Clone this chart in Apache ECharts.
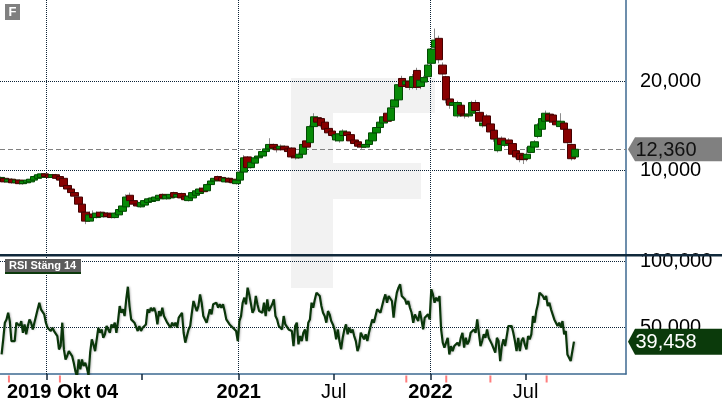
<!DOCTYPE html>
<html>
<head>
<meta charset="utf-8">
<title>F</title>
<script src="https://cdn.jsdelivr.net/npm/echarts/dist/echarts.min.js"></script>
<style>
    html, body { margin: 0; padding: 0; background: #fff; }
    #main { width: 722px; height: 410px; }
</style>
</head>
<body>
<div id="main"></div>
<script>
// weekly candles from 2019-10-07, one per week: [open, close, low, high]
var weekStart = '2019-10-07';
var weeklyOHLC = [
    [8.8, 9.2, 8.7, 9.3], [9.1, 8.7, 8.6, 9.2], [8.7, 9.0, 8.6, 9.1], [9.0, 8.6, 8.5, 9.1], [8.6, 8.9, 8.5, 9.0],
    [8.9, 8.5, 8.4, 9.0], [8.5, 8.8, 8.4, 8.9], [8.6, 8.9, 8.5, 9.0], [8.7, 9.0, 8.6, 9.1], [8.9, 9.3, 8.8, 9.4],
    [9.1, 9.5, 9.0, 9.6], [9.2, 9.6, 9.1, 9.7], [9.6, 9.3, 9.2, 9.7], [9.5, 9.2, 9.1, 9.6], [9.2, 9.5, 9.1, 9.6],
    [9.5, 9.1, 9.0, 9.6], [9.3, 8.9, 8.8, 9.4], [9.1, 8.2, 8.1, 9.2], [8.3, 7.9, 7.8, 8.4], [7.9, 7.5, 7.3, 8.0],
    [7.5, 7.1, 6.9, 7.6], [7.0, 6.2, 6.0, 7.1], [6.2, 5.3, 5.1, 6.4], [5.3, 4.3, 3.96, 5.5], [4.3, 5.0, 4.2, 5.4],
    [5.1, 4.7, 4.5, 5.5], [4.7, 5.2, 4.6, 5.4], [5.3, 4.8, 4.7, 5.4], [4.8, 5.2, 4.7, 5.3], [5.2, 4.8, 4.7, 5.3],
    [5.1, 4.7, 4.6, 5.2], [4.7, 5.2, 4.6, 5.3], [5.0, 5.6, 4.9, 5.7], [5.4, 6.0, 5.3, 6.2], [5.9, 7.0, 5.8, 7.3],
    [7.2, 6.6, 6.4, 7.5], [6.6, 6.2, 6.1, 6.8], [6.2, 6.0, 5.9, 6.4], [5.9, 6.4, 5.8, 6.5], [6.1, 6.6, 6.0, 6.7],
    [6.4, 6.8, 6.3, 6.9], [6.5, 6.9, 6.4, 7.0], [6.6, 7.0, 6.5, 7.1], [6.8, 7.2, 6.7, 7.3], [7.3, 6.9, 6.8, 7.4],
    [6.8, 7.2, 6.7, 7.3], [6.9, 7.3, 6.8, 7.4], [7.5, 7.0, 6.9, 7.6], [7.0, 7.3, 6.9, 7.4], [7.4, 6.9, 6.8, 7.5],
    [7.1, 6.7, 6.6, 7.2], [6.6, 7.1, 6.5, 7.2], [6.9, 7.5, 6.8, 7.6], [7.2, 7.7, 7.1, 7.9], [7.4, 7.9, 7.3, 8.1],
    [8.0, 7.6, 7.5, 8.1], [7.7, 8.4, 7.6, 8.5], [8.4, 8.8, 8.3, 9.0], [8.8, 9.1, 8.7, 9.3], [9.3, 8.9, 8.8, 9.4],
    [9.2, 8.8, 8.7, 9.3], [8.7, 9.1, 8.6, 9.2], [9.1, 8.7, 8.6, 9.2], [9.0, 8.6, 8.5, 9.1], [8.5, 8.9, 8.4, 9.0],
    [8.9, 9.8, 8.8, 10.0], [9.8, 11.4, 9.7, 11.7], [11.5, 10.3, 10.1, 11.6], [10.3, 10.9, 10.2, 11.0], [10.8, 11.4, 10.7, 11.6],
    [11.4, 11.6, 11.2, 11.8], [11.6, 12.1, 11.5, 12.3], [12.1, 12.4, 11.9, 12.6], [12.4, 12.9, 12.3, 13.6], [12.9, 12.5, 12.3, 13.0],
    [12.6, 12.3, 12.0, 12.8], [12.4, 12.7, 12.2, 12.9], [12.7, 12.3, 12.1, 12.8], [12.4, 12.1, 11.9, 12.5], [12.5, 11.5, 11.3, 12.6],
    [11.6, 11.4, 11.2, 11.8], [11.4, 11.8, 11.3, 12.0], [11.8, 12.9, 11.7, 13.1], [13.3, 12.6, 12.5, 13.5], [13.1, 14.9, 13.0, 15.1],
    [14.9, 16.0, 14.8, 16.4], [15.9, 15.4, 15.1, 16.1], [15.8, 15.0, 14.8, 15.9], [15.4, 14.6, 14.4, 15.5], [14.7, 14.2, 14.0, 14.9],
    [14.4, 13.9, 13.7, 14.6], [13.4, 14.0, 13.2, 14.2], [13.3, 14.1, 13.1, 14.3], [13.9, 14.4, 13.7, 14.6], [14.3, 13.9, 13.7, 14.5],
    [14.0, 13.3, 13.1, 14.1], [13.4, 13.0, 12.8, 13.6], [13.2, 12.7, 12.5, 13.3], [12.9, 12.6, 12.4, 13.0], [12.6, 12.9, 12.5, 13.1],
    [12.9, 13.4, 12.8, 13.6], [13.3, 14.2, 13.2, 14.4], [14.2, 14.8, 14.0, 15.0], [14.8, 15.4, 14.6, 15.6], [15.3, 16.0, 15.2, 16.3],
    [16.4, 15.5, 15.3, 16.6], [15.6, 17.0, 15.5, 17.2], [17.1, 17.9, 16.9, 18.1], [17.9, 19.6, 17.8, 19.9], [20.3, 19.4, 19.1, 20.6],
    [19.6, 20.0, 19.3, 20.3], [20.0, 19.3, 19.0, 20.2], [19.3, 20.5, 19.1, 20.8], [21.2, 19.3, 19.0, 21.5], [19.4, 20.1, 19.1, 20.3],
    [19.9, 20.4, 19.7, 20.6], [20.5, 21.8, 20.3, 22.0], [22.0, 23.6, 21.8, 24.2], [23.8, 24.6, 23.4, 25.9], [24.8, 22.4, 22.0, 25.1],
    [21.8, 20.8, 20.4, 22.1], [20.5, 17.9, 17.5, 20.6], [18.0, 17.3, 16.9, 18.3], [17.3, 17.6, 16.8, 18.0], [16.1, 17.6, 15.9, 17.8],
    [17.3, 16.3, 16.0, 17.5], [16.3, 16.1, 15.8, 16.6], [16.1, 16.3, 15.9, 16.5], [16.4, 17.6, 16.3, 17.8], [17.6, 16.7, 16.4, 17.9],
    [16.5, 15.5, 15.2, 16.7], [15.0, 15.3, 14.8, 15.5], [16.1, 15.0, 14.7, 16.3], [15.2, 14.3, 14.0, 15.4], [14.5, 13.5, 13.2, 14.7],
    [12.2, 13.5, 12.0, 13.7], [13.6, 12.9, 12.6, 13.8], [12.8, 13.3, 12.6, 13.5], [13.4, 13.0, 12.7, 13.6], [13.0, 11.8, 11.6, 13.2],
    [12.2, 11.5, 11.3, 12.4], [11.9, 11.2, 10.9, 12.1], [11.7, 11.2, 10.7, 11.8], [11.3, 11.8, 11.0, 12.6], [12.0, 12.7, 11.9, 12.9],
    [12.6, 13.2, 12.4, 13.4], [13.8, 15.1, 13.6, 15.3], [14.6, 15.8, 14.4, 16.0], [15.5, 16.4, 15.3, 16.7], [16.3, 15.6, 15.3, 16.5],
    [16.2, 15.4, 15.1, 16.3], [15.5, 15.1, 14.9, 15.7], [14.9, 15.5, 14.7, 16.4], [15.3, 14.6, 14.4, 15.5], [14.6, 13.1, 12.9, 14.7],
    [12.9, 11.3, 11.1, 13.0], [11.5, 12.36, 11.2, 12.4]
];

// RSI Stäng 14, evenly spaced from rsiStart to rsiEnd
var rsiStart = '2019-10-08';
var rsiEnd = '2022-10-01';
var rsiValues = [
    29.8, 41.2, 53.8, 56.3, 61.3, 55.0, 39.9, 41.2, 39.9, 53.8,
    55.0, 51.3, 55.0, 46.2, 52.5, 45.0, 51.3, 56.3, 53.8, 48.7,
    53.8, 58.8, 63.9, 68.9, 63.9, 62.6, 60.1, 53.8, 50.0, 51.3,
    47.5, 50.0, 47.5, 48.7, 43.7, 33.6, 36.1, 53.8, 33.6, 26.0,
    28.6, 32.3, 33.6, 28.6, 23.5, 17.2, 13.0, 26.0, 18.5, 26.0,
    21.0, 23.5, 19.7, 14.0, 31.1, 41.2, 37.4, 32.3, 41.2, 50.0,
    46.2, 48.7, 42.4, 45.0, 51.3, 52.5, 46.2, 52.5, 50.0, 53.8,
    46.2, 55.0, 66.4, 61.3, 63.9, 58.8, 71.4, 81.0, 66.4, 56.3,
    57.6, 53.8, 53.8, 47.5, 51.3, 47.5, 50.0, 48.7, 52.5, 63.9,
    61.3, 65.1, 62.6, 65.1, 61.3, 52.5, 62.6, 58.8, 65.1, 58.8,
    60.1, 53.8, 55.0, 50.0, 53.8, 51.3, 53.8, 50.0, 57.6, 56.3,
    61.3, 46.2, 38.7, 43.7, 48.7, 51.3, 61.3, 70.2, 66.4, 62.6,
    66.4, 75.2, 68.9, 58.8, 57.6, 53.8, 58.8, 63.9, 60.1, 67.7,
    66.4, 68.9, 65.1, 67.7, 65.1, 67.7, 62.6, 56.3, 55.0, 52.5,
    53.8, 50.0, 51.3, 47.5, 39.9, 55.0, 58.8, 68.9, 72.7, 67.7,
    80.3, 75.2, 74.0, 61.3, 63.9, 74.0, 67.7, 62.6, 63.9, 61.3,
    68.9, 58.8, 71.4, 62.6, 61.3, 67.7, 71.4, 58.8, 56.3, 51.3,
    51.3, 48.7, 58.8, 52.5, 51.3, 48.7,
    48.7, 47.5, 36.1, 51.3, 53.8, 37.4, 43.7, 39.9, 46.2, 48.7,
    39.9, 53.8, 56.3, 68.9, 65.1, 71.4, 76.5, 77.7, 74.0, 66.4,
    61.3, 58.8, 53.8, 62.6, 60.1, 55.0, 52.5, 48.7, 41.2, 48.7,
    39.9, 33.6, 42.4, 48.7, 52.5, 45.0, 50.0, 46.2, 48.7, 43.7,
    39.9, 32.3, 36.1, 46.2, 46.2, 41.2, 45.0, 39.9, 46.2, 47.5,
    56.3, 53.8, 58.8, 63.9, 65.1, 61.3, 66.4, 71.4, 75.2, 68.9,
    74.0, 75.2, 70.2, 57.6, 68.9, 76.5, 80.3, 82.8, 74.0, 72.7,
    71.4, 67.7, 70.2, 65.1, 61.3, 53.8, 60.1, 57.6, 55.0, 62.6,
    56.3, 48.7, 57.6, 58.8, 60.1, 56.3, 79.0, 75.2, 68.9, 72.7,
    70.2, 74.0, 48.7, 38.7, 34.9, 36.1, 42.4, 29.8, 36.1, 32.3,
    36.1, 34.9, 38.7, 36.1, 42.4, 46.2, 34.9, 42.4, 37.4, 39.9,
    46.2, 45.0, 48.7, 46.2, 56.3, 46.2, 36.1, 39.9, 45.0, 42.4,
    48.7, 42.4, 41.2, 37.4, 36.1, 31.1, 42.4, 39.9, 24.8, 36.1,
    41.2, 36.1, 43.7, 51.3, 50.0, 51.3, 46.2, 39.9, 32.3, 42.4,
    32.3, 39.9, 42.4, 37.4, 33.6, 43.7, 41.2, 45.0, 58.8, 53.8,
    62.6, 67.7, 76.5, 77.0, 74.0, 71.4, 74.0, 66.4, 68.9, 63.9,
    60.1, 56.3, 57.6, 51.3, 53.8, 50.0, 55.0, 45.0, 47.5, 29.8,
    27.3, 24.8, 23.5, 39.458
];

// red markers under the axis (dividend dates)
var eventDates = ['2019-10-22', '2020-01-27', '2021-11-16', '2022-01-31', '2022-04-25', '2022-08-10'];

var axisFrom = '2019-10-05';
var axisTo = '2023-01-08';
var yearLines = ['2020-01-01', '2021-01-01', '2022-01-01'];
var tickDates = ['2020-01-01', '2020-07-01', '2021-01-01', '2021-07-01', '2022-01-01', '2022-07-01'];
var labelDates = ['2021-01-01', '2021-07-01', '2022-01-01', '2022-07-01'];
var firstLabel = '2019 Okt 04';
var priceLevels = [20, 10];
var rsiLevels = [100, 50];
var lastPrice = 12.36;
var lastRsi = 39.458;

var FONT = '"Liberation Sans", Arial, sans-serif';

function ts(str) {
    var p = str.split('-');
    return new Date(+p[0], +p[1] - 1, +p[2]).getTime();
}
function fmt(v) {
    return v.toFixed(3).replace('.', ',');
}

var chart = echarts.init(document.getElementById('main'));

var t0 = ts(weekStart);
var wickData = [], bodyData = [];
weeklyOHLC.forEach(function (r, k) {
    var d = new Date(t0);
    d.setDate(d.getDate() + 7 * k);
    var t = d.getTime();
    wickData.push([t, r[0], r[1], r[2], r[3]]);
    bodyData.push([t, r[0], r[1], Math.min(r[0], r[1]), Math.max(r[0], r[1])]);
});

var r0 = ts(rsiStart), r1 = ts(rsiEnd);
var rsiData = rsiValues.map(function (v, j) {
    return [r0 + j * (r1 - r0) / (rsiValues.length - 1), v];
});

var dotted = { color: '#0c2236', type: 'dotted', width: 1 };
var vLines = yearLines.map(function (d) {
    return { xAxis: ts(d), label: { show: false }, lineStyle: dotted };
});

function levelLines(levels) {
    return levels.map(function (v) {
        return {
            yAxis: v, lineStyle: dotted,
            label: { show: true, position: 'end', distance: 14, formatter: fmt(v), fontSize: 20, color: '#000', fontFamily: FONT }
        };
    });
}

var tagPath = 'path://M0,12L7,0L100,0L100,24L7,24Z';

var option = {
    animation: false,
    textStyle: { fontFamily: FONT },
    grid: [
        { left: 0, right: 96, top: 0, height: 255 },
        { left: 0, right: 96, top: 255, height: 119 }
    ],
    xAxis: [
        { type: 'value', gridIndex: 0, min: ts(axisFrom), max: ts(axisTo), show: false, splitLine: { show: false } },
        {
            type: 'value', gridIndex: 1, min: ts(axisFrom), max: ts(axisTo),
            axisLine: { show: true, onZero: false, lineStyle: { color: '#3c6991', width: 1.5 } },
            axisTick: { show: true, length: 6, customValues: tickDates.map(ts), lineStyle: { color: '#13283c', width: 1.5 } },
            axisLabel: {
                customValues: labelDates.map(ts),
                margin: 8,
                formatter: function (v) {
                    var d = new Date(v);
                    return d.getMonth() === 0 ? '{b|' + d.getFullYear() + '}' : '{r|Jul}';
                },
                rich: {
                    b: { fontSize: 20, fontWeight: 'bold', color: '#000', fontFamily: FONT },
                    r: { fontSize: 20, color: '#000', fontFamily: FONT }
                }
            },
            splitLine: { show: false }
        }
    ],
    yAxis: [
        {
            type: 'value', gridIndex: 0, min: 0.5, max: 29.1, position: 'right',
            axisLine: { show: true, lineStyle: { color: '#3c6991', width: 1.5 } },
            axisTick: { show: false }, axisLabel: { show: false }, splitLine: { show: false }
        },
        {
            type: 'value', gridIndex: 1, min: 15, max: 105, position: 'right',
            axisLine: { show: true, lineStyle: { color: '#3c6991', width: 1.5 } },
            axisTick: { show: false }, axisLabel: { show: false }, splitLine: { show: false }
        }
    ],
    graphic: [
        // watermark
        { type: 'rect', z: 0, shape: { x: 291, y: 78, width: 42, height: 210 }, style: { fill: '#f2f2f2' }, silent: true },
        { type: 'rect', z: 0, shape: { x: 333, y: 78, width: 102, height: 35 }, style: { fill: '#f2f2f2' }, silent: true },
        { type: 'rect', z: 0, shape: { x: 333, y: 163, width: 88, height: 36 }, style: { fill: '#f2f2f2' }, silent: true },
        // symbol badge
        { type: 'rect', z: 100, shape: { x: 5, y: 4, width: 15, height: 16 }, style: { fill: '#808080' } },
        { type: 'text', z: 101, x: 12.5, y: 12.5, style: { text: 'F', fill: '#fff', font: 'bold 13px ' + FONT, align: 'center', verticalAlign: 'middle' } },
        // pane separator
        { type: 'rect', z: 100, shape: { x: 0, y: 254, width: 722, height: 2.5 }, style: { fill: '#10293b' } },
        // RSI badge
        { type: 'rect', z: 100, shape: { x: 5, y: 259, width: 76, height: 13 }, style: { fill: '#5c5c5c' } },
        { type: 'rect', z: 100, shape: { x: 5, y: 272, width: 76, height: 2 }, style: { fill: '#0c3a0c' } },
        { type: 'text', z: 101, x: 9, y: 266, style: { text: 'RSI Stäng 14', fill: '#fff', font: 'bold 11px ' + FONT, align: 'left', verticalAlign: 'middle' } },
        // first date label
        { type: 'text', z: 101, x: 7, y: 392, style: { text: firstLabel, fill: '#000', font: 'bold 20px ' + FONT, align: 'left', verticalAlign: 'middle' } }
    ],
    series: [
        {
            name: 'wick', type: 'candlestick', xAxisIndex: 0, yAxisIndex: 0,
            data: wickData, barWidth: 1, clip: false, silent: true, z: 5,
            itemStyle: { color: '#8c8c8c', color0: '#8c8c8c', borderColor: '#8c8c8c', borderColor0: '#8c8c8c', borderWidth: 1 },
            markLine: {
                silent: true, symbol: ['none', 'none'], z: 4,
                data: levelLines(priceLevels).concat(vLines).concat([
                    { yAxis: lastPrice, label: { show: false }, lineStyle: { color: '#808080', type: [5, 3], width: 1 } }
                ])
            },
            markPoint: {
                silent: true, z: 3,
                symbol: tagPath, symbolSize: [100, 24], symbolOffset: [52, 0],
                itemStyle: { color: '#808080' },
                label: { show: true, position: 'inside', offset: [-12, 1], fontSize: 20, color: '#111', fontFamily: FONT, formatter: fmt(lastPrice) },
                data: [{ coord: [ts(axisTo), lastPrice] }]
            }
        },
        {
            name: 'body', type: 'candlestick', xAxisIndex: 0, yAxisIndex: 0,
            data: bodyData, barWidth: 8, silent: true, z: 6,
            itemStyle: { color: '#078a07', color0: '#880000', borderColor: '#024a02', borderColor0: '#440000', borderWidth: 1 }
        },
        {
            name: 'RSI', type: 'line', xAxisIndex: 1, yAxisIndex: 1,
            data: rsiData, showSymbol: false, silent: true, z: 6,
            lineStyle: { color: '#0a360a', width: 2.2, shadowColor: 'rgba(0,0,0,0.25)', shadowBlur: 2, shadowOffsetX: 1 }
        },
        {
            name: 'events', type: 'scatter', xAxisIndex: 1, yAxisIndex: 1,
            data: eventDates.map(function (d) { return [ts(d), 15]; }),
            symbol: 'rect', symbolSize: [2, 7], symbolOffset: [0, 5], clip: false, silent: true, z: 7,
            itemStyle: { color: '#ff5d5d' },
            markLine: {
                silent: true, symbol: ['none', 'none'], z: 3,
                data: levelLines(rsiLevels).concat(vLines)
            },
            markPoint: {
                silent: true, z: 4,
                symbol: tagPath, symbolSize: [100, 26], symbolOffset: [52, 0],
                itemStyle: { color: '#0b3a0b' },
                label: { show: true, position: 'inside', offset: [-12, 1], fontSize: 20, color: '#fff', fontFamily: FONT, formatter: fmt(lastRsi) },
                data: [{ coord: [ts(axisTo), lastRsi] }]
            }
        }
    ]
};

chart.setOption(option);
</script>
</body>
</html>
